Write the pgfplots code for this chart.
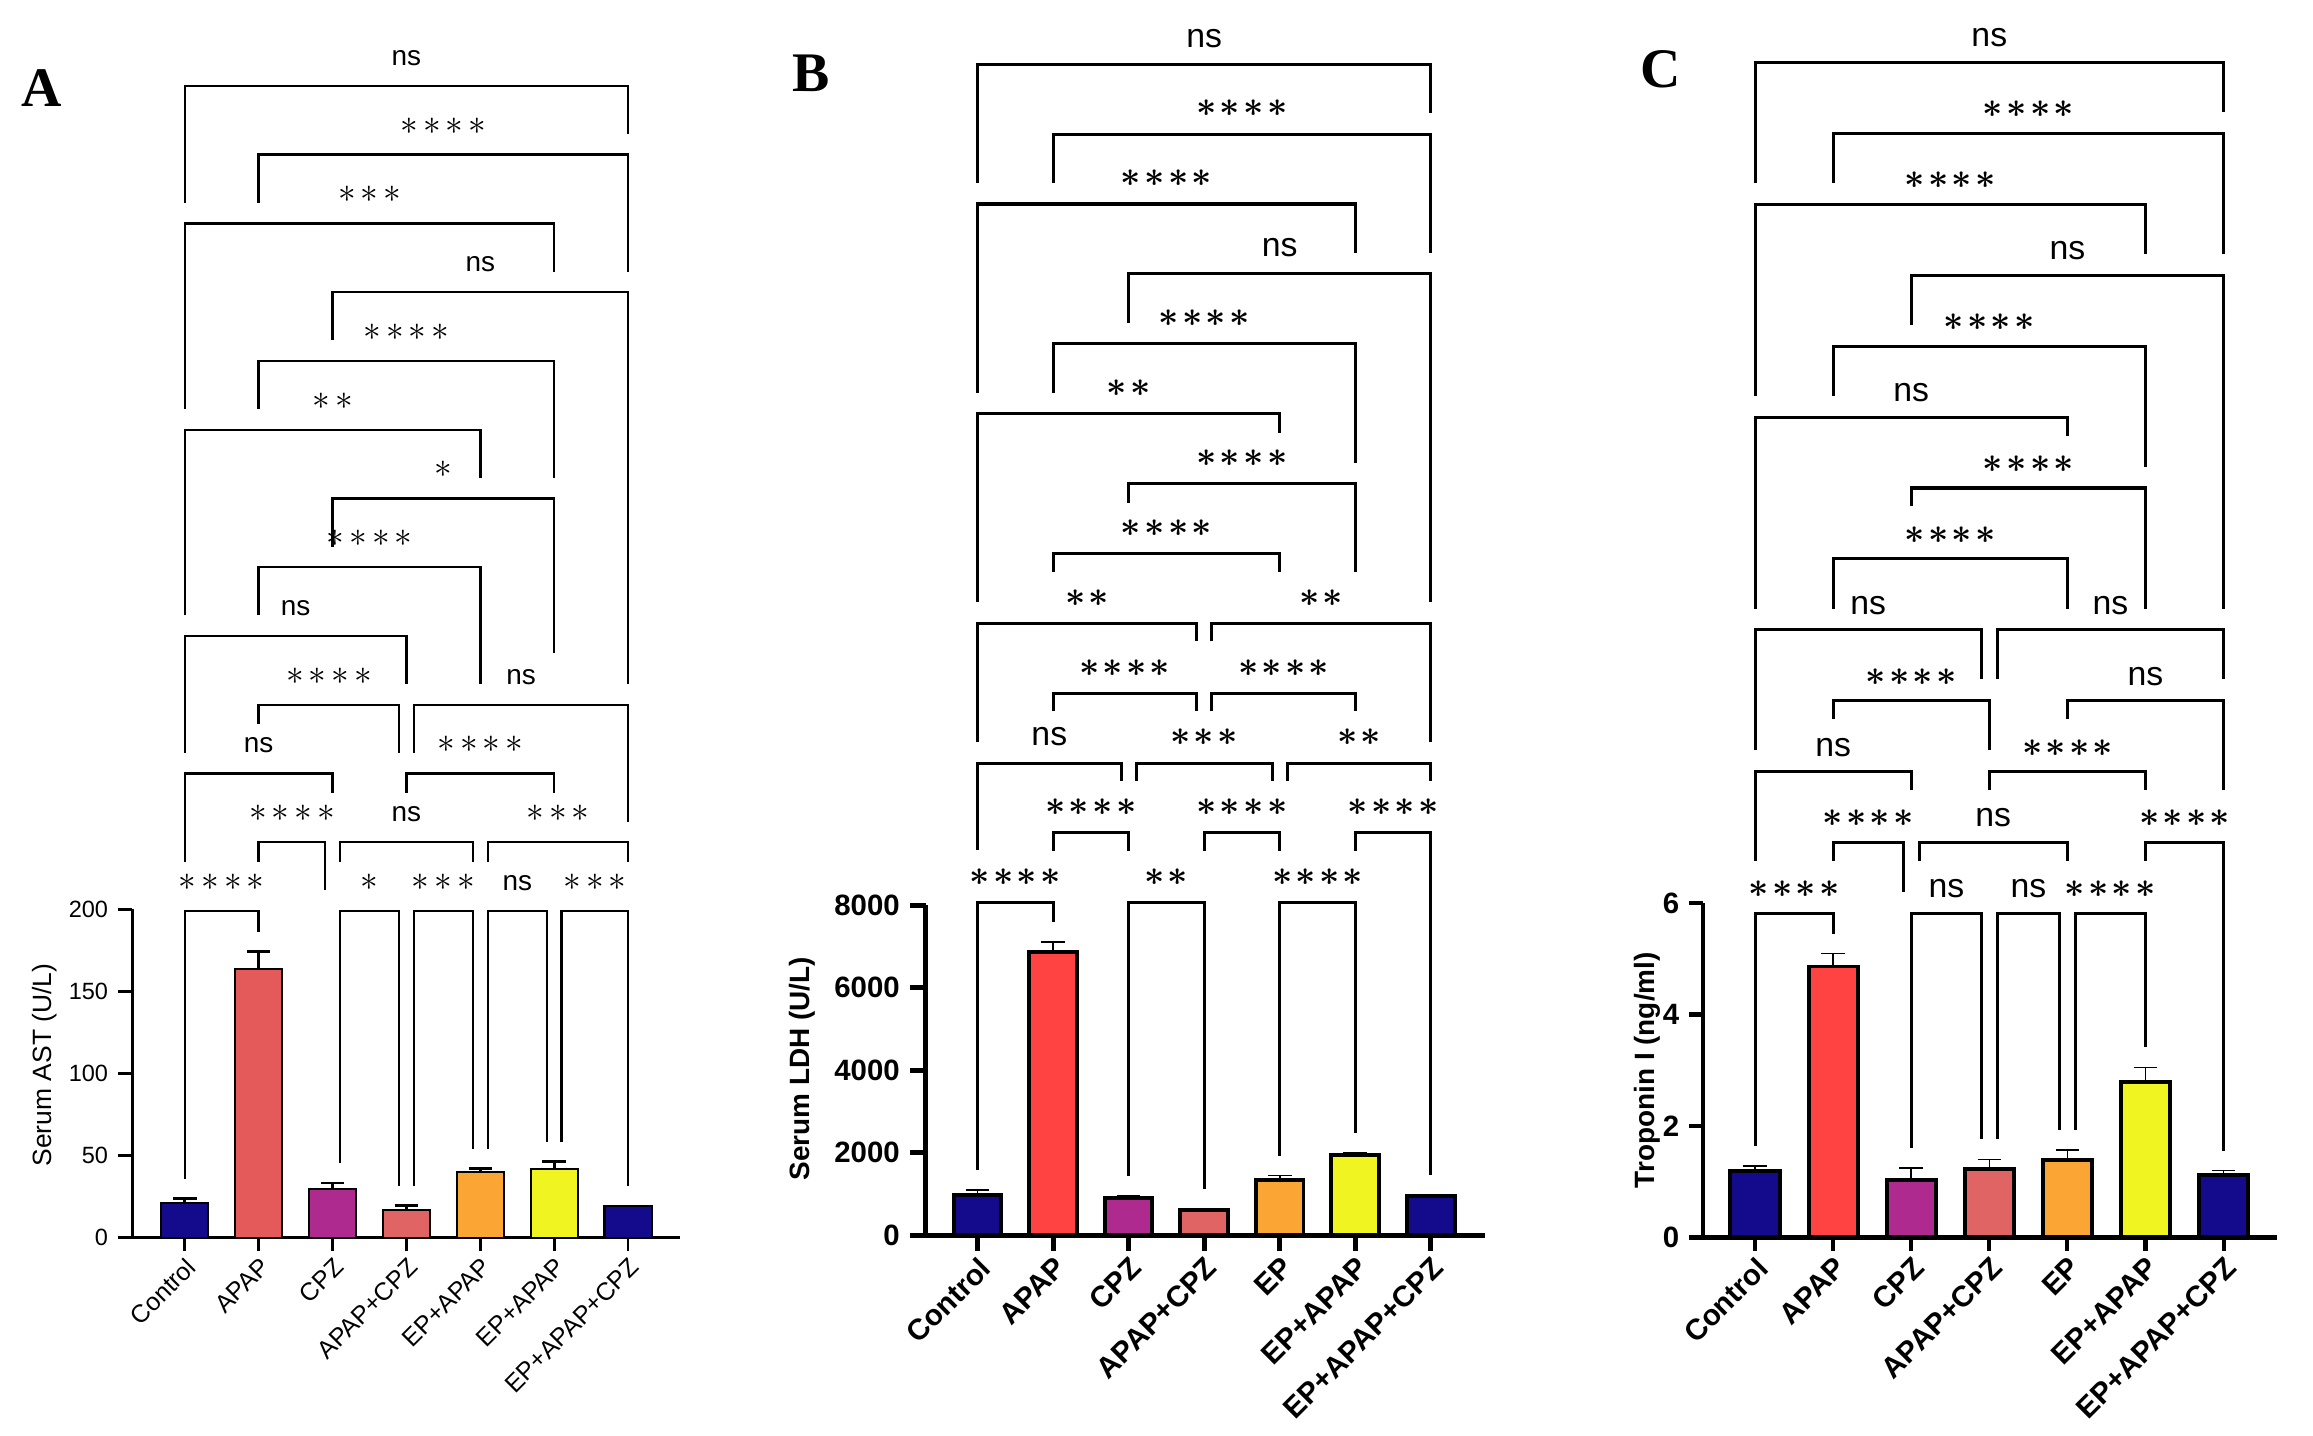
\documentclass[border=0pt]{standalone}
\usepackage{fontspec}
\setmainfont{Liberation Sans}
\newfontfamily\letterfont{Liberation Serif}
\usepackage{pgfplots}
\pgfplotsset{compat=1.18}

\definecolor{cnavy}{HTML}{130B8C}
\definecolor{capapA}{HTML}{E45A5A}
\definecolor{capap}{HTML}{FF4343}
\definecolor{ccpz}{HTML}{AE2A8E}
\definecolor{capcpz}{HTML}{E06464}
\definecolor{corange}{HTML}{FBA534}
\definecolor{cyellow}{HTML}{F0F522}

\newcommand\fs[1]{\fontsize{#1}{#1}\selectfont}
% significance stars
\newcommand\sg{{\bkstarfont\ensuremath{\ast}}}
\newcommand\sk{\kern\bkskip}
\newcommand\st[1]{\ifcase#1\or\sg\or\sg\sk\sg\or\sg\sk\sg\sk\sg\or\sg\sk\sg\sk\sg\sk\sg\fi}

% bracket levels: base + step*level ; legs end above a bracket or a bar
\newcommand\lv[1]{(\bkbase+\bkstep*(#1))}
\newcommand\bt[1]{(#1+\bkgap)}
\newcommand\calc[2]{\begingroup\pgfkeys{/pgf/fpu=true,/pgf/fpu/output format=fixed}%
  \pgfmathparse{#2}\xdef#1{\pgfmathresult}\endgroup}
\newcommand\brk[6]{%
  \calc\yy{\bkbase+\bkstep*(#3)}%
  \calc\ya{#4}\calc\yb{#5}\calc\xm{(#1+#2)/2}%
  \edef\tmp{\noexpand\addplot[brk\bkid] coordinates {(#1,\ya) (#1,\yy) (#2,\yy) (#2,\yb)};%
    \noexpand\node[lab\bkid] at (axis cs:\xm,\yy) {\unexpanded{#6}};}%
  \tmp}

\tikzset{
  brkA/.style={black, line width=0.8bp, mark=none, line join=miter},
  brkB/.style={black, line width=1.05bp, mark=none, line join=miter},
  brkC/.style={black, line width=1.05bp, mark=none, line join=miter},
  labA/.style={anchor=base, yshift=7bp, inner sep=0pt, font=\fs{9.5}},
  labB/.style={anchor=base, yshift=5.8bp, inner sep=0pt, font=\fs{11.5}\boldmath},
  labC/.style={anchor=base, yshift=5.3bp, inner sep=0pt, font=\fs{11.5}\boldmath},
}

\pgfplotsset{
  panel/.style={
    scale only axis, axis lines=left, axis line style={-},
    enlargelimits=false, clip=false, ymin=0,
    xtick={0,...,6}, tick align=outside,
    xticklabel style={rotate=45, anchor=north east, inner sep=1bp},
    ylabel style={anchor=center},
  },
  barA/.style={ybar, bar width=0.64, bar shift=0pt, draw=black, line width=0.7bp,
    error bars/y dir=plus, error bars/y explicit,
    error bars/error bar style={line width=0.9bp, black},
    error bars/error mark options={rotate=90, mark size=4bp, line width=0.9bp, black}},
  barB/.style={ybar, bar width=0.63, bar shift=0pt, draw=black, line width=1.35bp,
    error bars/y dir=plus, error bars/y explicit,
    error bars/error bar style={line width=0.55bp, black},
    error bars/error mark options={rotate=90, mark size=4bp, line width=0.55bp, black}},
}

\begin{document}
\begin{tikzpicture}
\path[use as bounding box] (0,0) rectangle (784bp,486.5bp);

\node[font=\letterfont\bfseries\fs{19}] at (14bp,456.5bp) {A};
\node[font=\letterfont\bfseries\fs{19}] at (275bp,461.5bp) {B};
\node[font=\letterfont\bfseries\fs{19}] at (563bp,463bp) {C};

% ---------------- A: AST
\begin{axis}[panel, at={(44.85bp,67bp)}, anchor=south west,
  width=185.6bp, height=111.25bp,
  xmin=-0.71, xmax=6.7, ymax=200,
  ytick={0,50,100,150,200}, yticklabels={0,50,100,150,200},
  axis line style={line width=0.9bp}, tick style={line width=0.9bp, black},
  major tick length=4.7bp,
  yticklabel style={font=\fs{8}},
  xticklabel style={font=\fs{8.5}},
  xticklabels={Control,APAP,CPZ,APAP+CPZ,EP+APAP,EP+APAP,EP+APAP+CPZ},
  ylabel={Serum AST (U/L)},
  ylabel style={font=\fs{9}, at={(axis description cs:-0.161,0.526)}}]
\def\bkid{A}\def\bkbase{199}\def\bkstep{41.9}\def\bkgap{12}\def\bkskip{1.7bp}
\def\bkstarfont{\fs{11.5}}
\addplot[barA, fill=cnavy]   coordinates {(0,21.3) +- (0,2.6)};
\addplot[barA, fill=capapA]  coordinates {(1,163.5) +- (0,10.8)};
\addplot[barA, fill=ccpz]    coordinates {(2,29.5) +- (0,3.8)};
\addplot[barA, fill=capcpz]  coordinates {(3,16.8) +- (0,2.6)};
\addplot[barA, fill=corange] coordinates {(4,39.8) +- (0,2.2)};
\addplot[barA, fill=cyellow] coordinates {(5,42) +- (0,4.2)};
\addplot[barA, fill=cnavy]   coordinates {(6,19) +- (0,0.3)};
\brk{0}{6}{12}{\lv{10.3}}{\lv{11.3}}{ns}
\brk{1}{6}{11}{\lv{10.3}}{\lv{9.3}}{\st4}
\brk{0}{5}{10}{\lv{7.3}}{\lv{9.3}}{\st3}
\brk{2}{6}{9}{\lv{8.3}}{\lv{3.3}}{ns}
\brk{1}{5}{8}{\lv{7.3}}{\lv{6.3}}{\st4}
\brk{0}{4}{7}{\lv{4.3}}{\lv{6.3}}{\st2}
\brk{2}{5}{6}{\lv{5.3}}{\lv{3.75}}{\st1}
\brk{1}{4}{5}{\lv{4.3}}{\lv{3.3}}{\st4}
\brk{0}{3}{4}{\lv{2.3}}{\lv{3.3}}{ns}
\brk{1}{2.9}{3}{\lv{2.72}}{\lv{2.3}}{\st4}
\brk{3.1}{6}{3}{\lv{2.3}}{\lv{1.3}}{ns}
\brk{0}{2}{2}{\lv{0.72}}{\lv{1.72}}{ns}
\brk{3}{5}{2}{\lv{1.72}}{\lv{1.72}}{\st4}
\brk{1}{1.9}{1}{\lv{0.72}}{\lv{0.3}}{\st4}
\brk{2.1}{3.9}{1}{\lv{0.72}}{\lv{0.72}}{ns}
\brk{4.1}{6}{1}{\lv{0.72}}{\lv{0.72}}{\st3}
\brk{0}{1}{0}{\bt{23.9}}{\bt{174.3}}{\st4}
\brk{2.1}{2.9}{0}{\bt{33.3}}{\bt{19.4}}{\st1}
\brk{3.1}{3.9}{0}{\bt{19.4}}{\bt{42}}{\st3}
\brk{4.1}{4.9}{0}{\bt{42}}{\bt{46.2}}{ns}
\brk{5.1}{6}{0}{\bt{46.2}}{\bt{19.3}}{\st3}
\end{axis}

% ---------------- B: LDH
\begin{axis}[panel, at={(313.8bp,67.85bp)}, anchor=south west,
  width=189.6bp, height=111.8bp,
  xmin=-0.685, xmax=6.72, ymax=8000,
  ytick={0,2000,4000,6000,8000}, yticklabels={0,2000,4000,6000,8000},
  axis line style={line width=1.7bp}, tick style={line width=1.7bp, black},
  major tick length=5.3bp,
  yticklabel style={font=\bfseries\fs{10}},
  xticklabel style={font=\bfseries\fs{10}},
  xticklabels={Control,APAP,CPZ,APAP+CPZ,EP,EP+APAP,EP+APAP+CPZ},
  ylabel={Serum LDH (U/L)},
  ylabel style={font=\bfseries\fs{9.5}, at={(axis description cs:-0.22,0.505)}}]
\def\bkid{B}\def\bkbase{8060}\def\bkstep{1695}\def\bkgap{480}\def\bkskip{1.1bp}
\def\bkstarfont{\fs{12.5}}
\addplot[barB, fill=cnavy]   coordinates {(0,970) +- (0,120)};
\addplot[barB, fill=capap]   coordinates {(1,6860) +- (0,250)};
\addplot[barB, fill=ccpz]    coordinates {(2,910) +- (0,52)};
\addplot[barB, fill=capcpz]  coordinates {(3,604) +- (0,26)};
\addplot[barB, fill=corange] coordinates {(4,1347) +- (0,97)};
\addplot[barB, fill=cyellow] coordinates {(5,1942) +- (0,44)};
\addplot[barB, fill=cnavy]   coordinates {(6,954) +- (0,17)};
\brk{0}{6}{12}{\lv{10.3}}{\lv{11.3}}{ns}
\brk{1}{6}{11}{\lv{10.3}}{\lv{9.3}}{\st4}
\brk{0}{5}{10}{\lv{7.3}}{\lv{9.3}}{\st4}
\brk{2}{6}{9}{\lv{8.3}}{\lv{4.3}}{ns}
\brk{1}{5}{8}{\lv{7.3}}{\lv{6.3}}{\st4}
\brk{0}{4}{7}{\lv{4.3}}{\lv{6.72}}{\st2}
\brk{2}{5}{6}{\lv{5.72}}{\lv{4.74}}{\st4}
\brk{1}{4}{5}{\lv{4.74}}{\lv{4.74}}{\st4}
\brk{0}{2.9}{4}{\lv{2.3}}{\lv{3.74}}{\st2}
\brk{3.1}{6}{4}{\lv{3.74}}{\lv{2.3}}{\st2}
\brk{1}{2.9}{3}{\lv{2.74}}{\lv{2.74}}{\st4}
\brk{3.1}{5}{3}{\lv{2.74}}{\lv{2.74}}{\st4}
\brk{0}{1.9}{2}{\lv{0.76}}{\lv{1.74}}{ns}
\brk{2.1}{3.9}{2}{\lv{1.74}}{\lv{1.74}}{\st3}
\brk{4.1}{6}{2}{\lv{1.74}}{\lv{1.74}}{\st2}
\brk{1}{2}{1}{\lv{0.74}}{\lv{0.74}}{\st4}
\brk{3}{4}{1}{\lv{0.74}}{\lv{0.74}}{\st4}
\brk{5}{6}{1}{\lv{0.74}}{\bt{971}}{\st4}
\brk{0}{1}{0}{\bt{1090}}{\bt{7110}}{\st4}
\brk{2}{3}{0}{\bt{962}}{\bt{630}}{\st2}
\brk{4}{5}{0}{\bt{1444}}{\bt{1986}}{\st4}
\end{axis}

% ---------------- C: Troponin I
\begin{axis}[panel, at={(577.15bp,67.05bp)}, anchor=south west,
  width=194.8bp, height=113.4bp,
  xmin=-0.67, xmax=6.69, ymax=6,
  ytick={0,2,4,6}, yticklabels={0,2,4,6},
  axis line style={line width=1.4bp}, tick style={line width=1.4bp, black},
  major tick length=4.5bp,
  yticklabel style={font=\bfseries\fs{10}},
  xticklabel style={font=\bfseries\fs{10}},
  xticklabels={Control,APAP,CPZ,APAP+CPZ,EP,EP+APAP,EP+APAP+CPZ},
  ylabel={Troponin I (ng/ml)},
  ylabel style={font=\bfseries\fs{9.5}, at={(axis description cs:-0.097,0.50)}}]
\def\bkid{C}\def\bkbase{5.81}\def\bkstep{1.272}\def\bkgap{0.36}\def\bkskip{1.1bp}
\def\bkstarfont{\fs{12.5}}
\addplot[barB, fill=cnavy]   coordinates {(0,1.19) +- (0,0.09)};
\addplot[barB, fill=capap]   coordinates {(1,4.86) +- (0,0.23)};
\addplot[barB, fill=ccpz]    coordinates {(2,1.03) +- (0,0.22)};
\addplot[barB, fill=capcpz]  coordinates {(3,1.23) +- (0,0.17)};
\addplot[barB, fill=corange] coordinates {(4,1.39) +- (0,0.18)};
\addplot[barB, fill=cyellow] coordinates {(5,2.78) +- (0,0.27)};
\addplot[barB, fill=cnavy]   coordinates {(6,1.12) +- (0,0.08)};
\brk{0}{6}{12}{\lv{10.3}}{\lv{11.3}}{ns}
\brk{1}{6}{11}{\lv{10.3}}{\lv{9.3}}{\st4}
\brk{0}{5}{10}{\lv{7.3}}{\lv{9.3}}{\st4}
\brk{2}{6}{9}{\lv{8.3}}{\lv{4.3}}{ns}
\brk{1}{5}{8}{\lv{7.3}}{\lv{6.3}}{\st4}
\brk{0}{4}{7}{\lv{4.3}}{\lv{6.74}}{ns}
\brk{2}{5}{6}{\lv{5.74}}{\lv{4.3}}{\st4}
\brk{1}{4}{5}{\lv{4.3}}{\lv{4.3}}{\st4}
\brk{0}{2.9}{4}{\lv{2.3}}{\lv{3.3}}{ns}
\brk{3.1}{6}{4}{\lv{3.3}}{\lv{3.3}}{ns}
\brk{1}{3}{3}{\lv{2.74}}{\lv{2.3}}{\st4}
\brk{4}{6}{3}{\lv{2.74}}{\lv{1.74}}{ns}
\brk{0}{2}{2}{\lv{0.74}}{\lv{1.74}}{ns}
\brk{3}{5}{2}{\lv{1.74}}{\lv{1.74}}{\st4}
\brk{1}{1.9}{1}{\lv{0.74}}{\lv{0.3}}{\st4}
\brk{2.1}{4}{1}{\lv{0.74}}{\lv{0.74}}{ns}
\brk{5}{6}{1}{\lv{0.74}}{\bt{1.20}}{\st4}
\brk{0}{1}{0}{\bt{1.28}}{\bt{5.09}}{\st4}
\brk{2}{2.9}{0}{\bt{1.25}}{\bt{1.40}}{ns}
\brk{3.1}{3.9}{0}{\bt{1.40}}{\bt{1.57}}{ns}
\brk{4.1}{5}{0}{\bt{1.57}}{\bt{3.05}}{\st4}
\end{axis}
\end{tikzpicture}
\end{document}
